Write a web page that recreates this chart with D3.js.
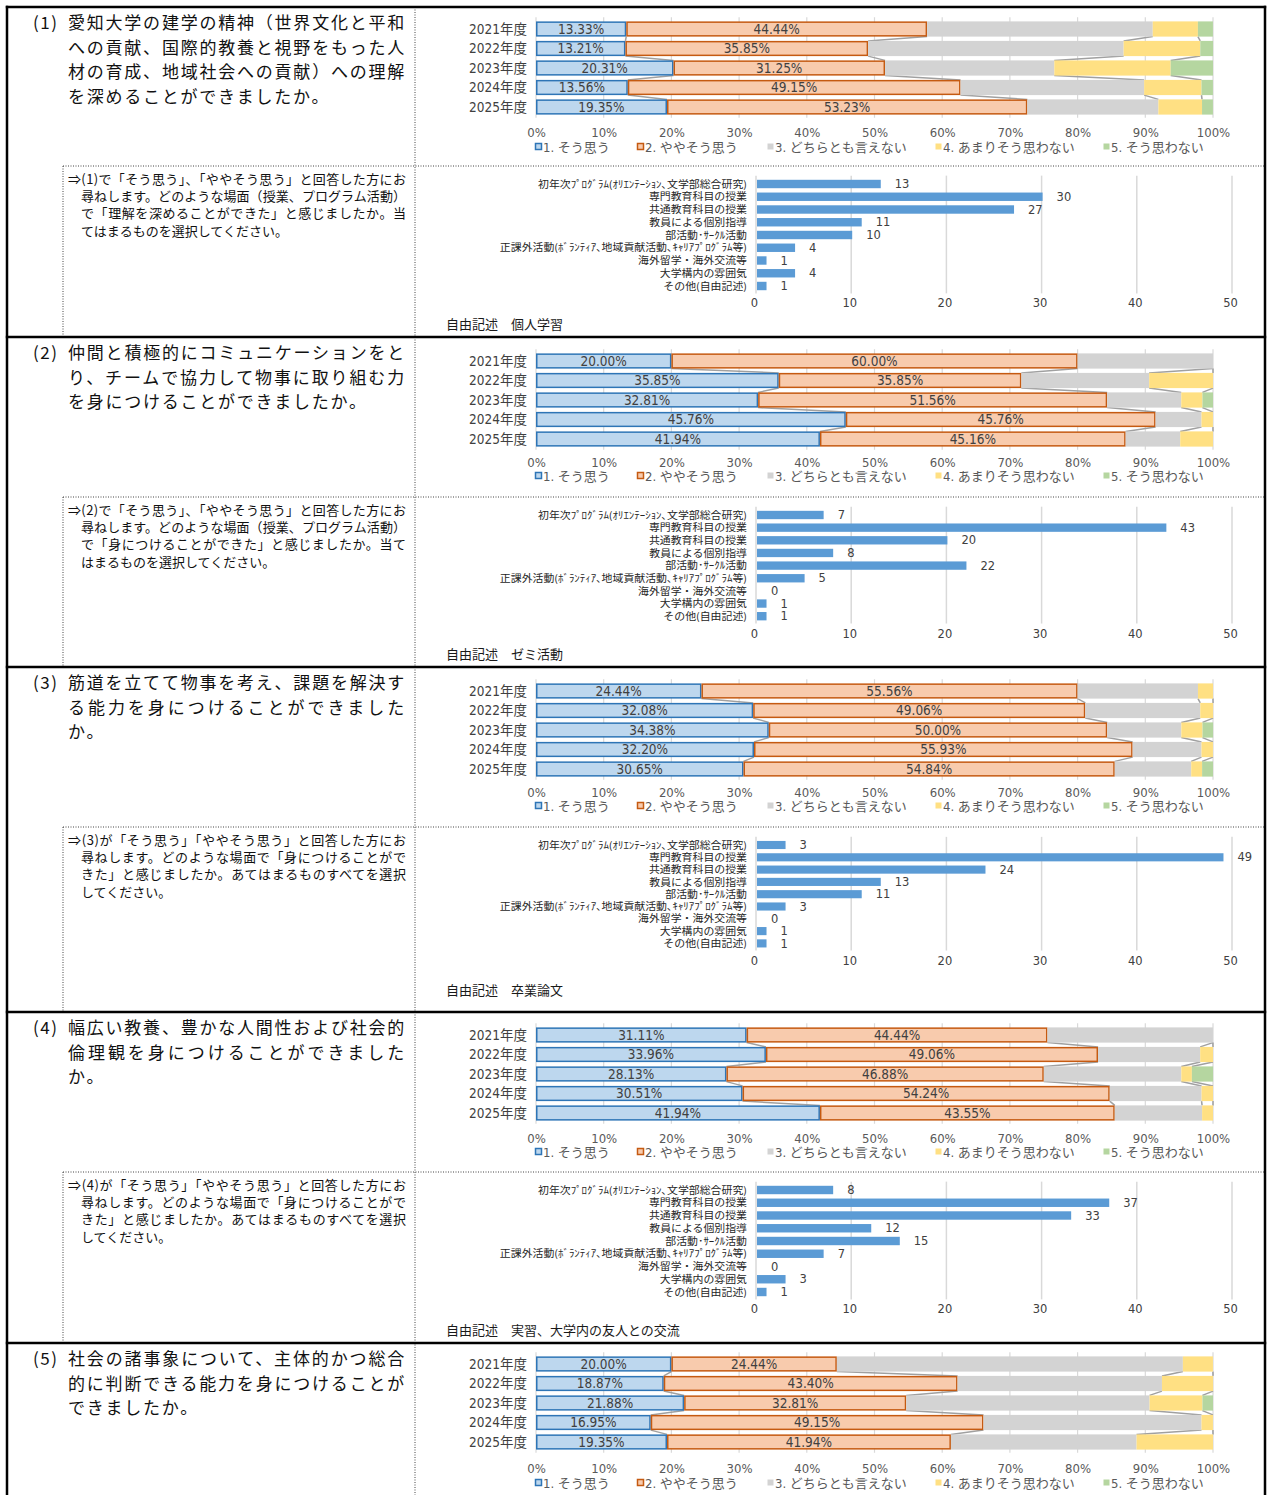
<!DOCTYPE html>
<html>
<head>
<meta charset="utf-8">
<script src="https://cdn.jsdelivr.net/npm/d3@7"></script>
<style>
  body { margin: 0; background: #fff; }
  svg { display: block; }
</style>
</head>
<body>
<svg id="sheet" width="1269" height="1495"></svg>
<script>
// ---- survey data -------------------------------------------------------
const years = ["2021年度", "2022年度", "2023年度", "2024年度", "2025年度"];
const seriesNames = ["1. そう思う", "2. ややそう思う", "3. どちらとも言えない", "4. あまりそう思わない", "5. そう思わない"];
const percentTicks = [0, 10, 20, 30, 40, 50, 60, 70, 80, 90, 100];

// share of answers (%) per year, columns follow seriesNames
const q1Shares = [
  [13.33, 44.44, 33.33, 6.67, 2.22],
  [13.21, 35.85, 37.74, 11.32, 1.89],
  [20.31, 31.25, 25.00, 17.19, 6.25],
  [13.56, 49.15, 27.12, 8.47, 1.69],
  [19.35, 53.23, 19.35, 6.45, 1.61]
];
const q2Shares = [
  [20.00, 60.00, 20.00, 0, 0],
  [35.85, 35.85, 18.87, 9.43, 0],
  [32.81, 51.56, 10.94, 3.13, 1.56],
  [45.76, 45.76, 6.78, 1.69, 0],
  [41.94, 45.16, 8.06, 4.84, 0]
];
const q3Shares = [
  [24.44, 55.56, 17.78, 2.22, 0],
  [32.08, 49.06, 16.98, 1.89, 0],
  [34.38, 50.00, 10.94, 3.13, 1.56],
  [32.20, 55.93, 10.17, 1.69, 0],
  [30.65, 54.84, 11.29, 1.61, 1.61]
];
const q4Shares = [
  [31.11, 44.44, 24.44, 0, 0],
  [33.96, 49.06, 15.09, 1.89, 0],
  [28.13, 46.88, 20.31, 1.56, 3.13],
  [30.51, 54.24, 13.56, 1.69, 0],
  [41.94, 43.55, 12.90, 1.61, 0]
];
const q5Shares = [
  [20.00, 24.44, 51.11, 4.44, 0],
  [18.87, 43.40, 30.19, 7.55, 0],
  [21.88, 32.81, 35.94, 7.81, 1.56],
  [16.95, 49.15, 32.20, 1.69, 0],
  [19.35, 41.94, 27.42, 11.29, 0]
];

// scenes where the ability was gained (number of answers)
const sceneCategories = [
  "初年次ﾌﾟﾛｸﾞﾗﾑ(ｵﾘｴﾝﾃｰｼｮﾝ､文学部総合研究)",
  "専門教育科目の授業",
  "共通教育科目の授業",
  "教員による個別指導",
  "部活動･ｻｰｸﾙ活動",
  "正課外活動(ﾎﾞﾗﾝﾃｨｱ､地域貢献活動､ｷｬﾘｱﾌﾟﾛｸﾞﾗﾑ等)",
  "海外留学・海外交流等",
  "大学構内の雰囲気",
  "その他(自由記述)"
];
const countTicks = [0, 10, 20, 30, 40, 50];
const q1Counts = [13, 30, 27, 11, 10, 4, 1, 4, 1];
const q2Counts = [7, 43, 20, 8, 22, 5, 0, 1, 1];
const q3Counts = [3, 49, 24, 13, 11, 3, 0, 1, 1];
const q4Counts = [8, 37, 33, 12, 15, 7, 0, 3, 1];

const freeTexts = [
  "自由記述　個人学習",
  "自由記述　ゼミ活動",
  "自由記述　卒業論文",
  "自由記述　実習、大学内の友人との交流"
];

const questionNumbers = ["(1)", "(2)", "(3)", "(4)", "(5)"];
const questionLines = [
  ["愛知大学の建学の精神（世界文化と平和", "への貢献、国際的教養と視野をもった人", "材の育成、地域社会への貢献）への理解", "を深めることができましたか。"],
  ["仲間と積極的にコミュニケーションをと", "り、チームで協力して物事に取り組む力", "を身につけることができましたか。"],
  ["筋道を立てて物事を考え、課題を解決す", "る能力を身につけることができました", "か。"],
  ["幅広い教養、豊かな人間性および社会的", "倫理観を身につけることができました", "か。"],
  ["社会の諸事象について、主体的かつ総合", "的に判断できる能力を身につけることが", "できましたか。"]
];
const followUpLines = [
  ["⇒(1)で「そう思う」、「ややそう思う」と回答した方にお", "尋ねします。どのような場面（授業、プログラム活動）", "で「理解を深めることができた」と感じましたか。当", "てはまるものを選択してください。"],
  ["⇒(2)で「そう思う」、「ややそう思う」と回答した方にお", "尋ねします。どのような場面（授業、プログラム活動）", "で「身につけることができた」と感じましたか。当て", "はまるものを選択してください。"],
  ["⇒(3)が「そう思う」「ややそう思う」と回答した方にお", "尋ねします。どのような場面で「身につけることがで", "きた」と感じましたか。あてはまるものすべてを選択", "してください。"],
  ["⇒(4)が「そう思う」「ややそう思う」と回答した方にお", "尋ねします。どのような場面で「身につけることがで", "きた」と感じましたか。あてはまるものすべてを選択", "してください。"]
];

// ---- page geometry -----------------------------------------------------
const sections = [
  { top: 7,    sub: 166,  bottom: 337,  row0: 29,   tick: 132,  legend: 147,  bar0: 184,  barStep: 12.75, barTick: 303,  caption: 324 },
  { top: 337,  sub: 497,  bottom: 667,  row0: 361,  tick: 462,  legend: 476,  bar0: 515,  barStep: 12.65, barTick: 634,  caption: 654 },
  { top: 667,  sub: 827,  bottom: 1012, row0: 691,  tick: 792,  legend: 806,  bar0: 845,  barStep: 12.3,  barTick: 961,  caption: 990 },
  { top: 1012, sub: 1172, bottom: 1343, row0: 1035, tick: 1138, legend: 1152, bar0: 1190, barStep: 12.75, barTick: 1309, caption: 1330 },
  { top: 1343, sub: null, bottom: 1495, row0: 1364, tick: 1468, legend: 1483 }
];

const NARROW = "'Liberation Sans Narrow','DejaVu Sans Condensed','Noto Sans CJK JP',sans-serif";
const JP = "'Noto Sans CJK JP','Noto Sans CJK SC',sans-serif";
const fills = ["#bdd7ee", "#f8cbad", "#d3d3d3", "#ffe083", "#b5d6a0"];
const strokes = ["#2e75b6", "#c55a11", null, null, null];
const legendX = [535, 637, 767, 935, 1103];

const svg = d3.select("#sheet");
svg.append("rect").attr("width", 1269).attr("height", 1495).attr("fill", "#fff");

const xPct = d3.scaleLinear().domain([0, 100]).range([536, 1213]);
const xCnt = d3.scaleLinear().domain([0, 50]).range([756, 1232]);
const stacker = d3.stack().keys(d3.range(5)).value((d, k) => d[k]);

// ---- 100% stacked bars per year ----------------------------------------
function drawStacked(shares, lay) {
  const g = svg.append("g");
  const step = 19.5;
  const y = d3.scaleBand().domain(years)
    .range([lay.row0 - step / 2, lay.row0 - step / 2 + step * years.length])
    .paddingInner(0.22).paddingOuter(0.11);
  const bw = y.bandwidth();
  const layers = stacker(shares);

  g.append("g").selectAll("line").data(percentTicks).join("line")
    .attr("x1", d => xPct(d)).attr("x2", d => xPct(d))
    .attr("y1", y.range()[0] - 2).attr("y2", y.range()[1] + 1)
    .attr("stroke", "#d9d9d9").attr("stroke-width", 1.2);

  // series lines joining the segment ends of neighbouring bars
  const joins = [];
  layers.slice(0, 4).forEach(layer => {
    for (let i = 0; i < years.length - 1; i++) {
      joins.push({ a: layer[i][1], b: layer[i + 1][1], i });
    }
  });
  g.append("g").selectAll("line").data(joins).join("line")
    .attr("x1", d => xPct(d.a)).attr("x2", d => xPct(d.b))
    .attr("y1", d => y(years[d.i]) + bw).attr("y2", d => y(years[d.i + 1]))
    .attr("stroke", "#a0a0a0").attr("stroke-width", 1.5);

  layers.forEach((layer, k) => {
    const inset = strokes[k] ? 0.75 : 0;
    g.append("g").selectAll("rect").data(layer).join("rect")
      .attr("x", d => xPct(d[0]) + inset)
      .attr("y", (d, i) => y(years[i]) + inset)
      .attr("width", d => Math.max(0, xPct(d[1]) - xPct(d[0]) - 2 * inset))
      .attr("height", bw - 2 * inset)
      .attr("fill", fills[k])
      .attr("stroke", strokes[k] || "none")
      .attr("stroke-width", strokes[k] ? 1.5 : 0);
  });

  layers.slice(0, 2).forEach((layer, k) => {
    g.append("g").selectAll("text").data(layer).join("text")
      .attr("x", d => xPct((d[0] + d[1]) / 2))
      .attr("y", (d, i) => y(years[i]) + bw / 2)
      .attr("dy", "0.36em")
      .attr("text-anchor", "middle")
      .attr("font-family", NARROW).attr("font-size", 13.5).attr("fill", "#404040")
      .text(d => shares[layer.indexOf(d)][k].toFixed(2) + "%");
  });

  const yAxis = g.append("g").attr("transform", "translate(527,0)")
    .call(d3.axisLeft(y).tickSize(0).tickPadding(0));
  yAxis.select(".domain").remove();
  yAxis.selectAll("text").attr("font-family", NARROW).attr("font-size", 13.5).attr("fill", "#404040").attr("dy", "0.36em");

  const xAxis = g.append("g").attr("transform", `translate(0,${lay.tick})`)
    .call(d3.axisBottom(xPct).tickValues(percentTicks).tickSize(0).tickFormat(d => d + "%"));
  xAxis.select(".domain").remove();
  xAxis.selectAll("text").attr("y", 0).attr("dy", "0.36em")
    .attr("font-family", NARROW).attr("font-size", 13).attr("fill", "#595959");

  const lg = g.append("g").selectAll("g").data(seriesNames).join("g")
    .attr("transform", (d, k) => `translate(${legendX[k]},${lay.legend})`);
  lg.append("rect").attr("x", 0.5).attr("y", -3.5).attr("width", 6).attr("height", 6)
    .attr("fill", (d, k) => fills[k])
    .attr("stroke", (d, k) => strokes[k] || "none").attr("stroke-width", 1.5);
  lg.append("text").attr("x", 8).attr("dy", "0.36em")
    .attr("font-family", NARROW).attr("font-size", 13).attr("fill", "#595959")
    .text(d => d);
}

// ---- answer counts per scene -------------------------------------------
function drawCounts(counts, lay, caption) {
  const g = svg.append("g");
  const y = d3.scaleBand().domain(sceneCategories)
    .range([lay.bar0 - lay.barStep / 2, lay.bar0 - lay.barStep / 2 + lay.barStep * sceneCategories.length])
    .paddingInner(0.34).paddingOuter(0.17);
  const bw = y.bandwidth();
  const rows = sceneCategories.map((c, i) => ({ c, v: counts[i] }));

  g.append("g").selectAll("line").data(countTicks).join("line")
    .attr("x1", d => xCnt(d)).attr("x2", d => xCnt(d))
    .attr("y1", y.range()[0] - 2).attr("y2", y.range()[1] + 1)
    .attr("stroke", "#d9d9d9").attr("stroke-width", 1.5);

  g.append("g").selectAll("rect").data(rows).join("rect")
    .attr("x", xCnt(0) + 1).attr("y", d => y(d.c))
    .attr("width", d => Math.max(0, xCnt(d.v) - xCnt(0)))
    .attr("height", bw).attr("fill", "#5b9bd5");

  g.append("g").selectAll("text").data(rows).join("text")
    .attr("x", d => xCnt(d.v) + 15).attr("y", d => y(d.c) + bw / 2).attr("dy", "0.36em")
    .attr("font-family", "'DejaVu Sans',sans-serif").attr("font-size", 11.5).attr("fill", "#404040")
    .text(d => d.v);

  // category names: small glyphs, stretched a little sideways
  const yAxis = g.append("g").attr("transform", "translate(747,0)")
    .call(d3.axisLeft(y).tickSize(0).tickPadding(0));
  yAxis.select(".domain").remove();
  yAxis.selectAll("text").attr("font-family", JP).attr("font-size", 10).attr("fill", "#262626").attr("dy", "0.36em")
    .each(function () {
      const w = this.getComputedTextLength();
      d3.select(this).attr("textLength", w * 1.09).attr("lengthAdjust", "spacingAndGlyphs");
    });

  const xAxis = g.append("g").attr("transform", `translate(-2,${lay.barTick})`)
    .call(d3.axisBottom(xCnt).tickValues(countTicks).tickSize(0));
  xAxis.select(".domain").remove();
  xAxis.selectAll("text").attr("y", 0).attr("dy", "0.36em")
    .attr("font-family", "'DejaVu Sans',sans-serif").attr("font-size", 11.5).attr("fill", "#404040");

  g.append("text").attr("x", 446).attr("y", lay.caption).attr("dy", "0.36em")
    .attr("font-family", JP).attr("font-size", 13).attr("fill", "#1a1a1a")
    .text(caption);
}

// ---- question texts ----------------------------------------------------
function drawQuestion(k, lay) {
  const g = svg.append("g").attr("font-family", JP).attr("fill", "#111");
  g.append("text").attr("x", 33).attr("y", lay.top + 16).attr("dy", "0.36em")
    .attr("font-size", 17).attr("letter-spacing", 1.5).text(questionNumbers[k]);
  const lines = questionLines[k];
  g.selectAll("text.q").data(lines).join("text").attr("class", "q")
    .attr("x", 68).attr("y", (d, i) => lay.top + 16 + i * 24.5).attr("dy", "0.36em")
    .attr("font-size", 17).attr("letter-spacing", 1.75)
    .each(function (d, i) {
      if (i < lines.length - 1) d3.select(this).attr("textLength", 338).attr("lengthAdjust", "spacing");
    })
    .text(d => d);

  if (lay.sub != null) {
    const sub = followUpLines[k];
    g.selectAll("text.s").data(sub).join("text").attr("class", "s")
      .attr("x", (d, i) => i === 0 ? 68 : 81)
      .attr("y", (d, i) => lay.sub + 13 + i * 17.3).attr("dy", "0.36em")
      .attr("font-size", 13)
      .each(function (d, i) {
        if (i < sub.length - 1) d3.select(this).attr("textLength", i === 0 ? 338 : 325).attr("lengthAdjust", "spacing");
      })
      .text(d => d);
  }
}

// ---- table rules -------------------------------------------------------
function drawFrame() {
  const g = svg.append("g");
  const solid = (x1, y1, x2, y2) => g.append("line")
    .attr("x1", x1).attr("y1", y1).attr("x2", x2).attr("y2", y2)
    .attr("stroke", "#000").attr("stroke-width", 2.5);
  const dotted = (x1, y1, x2, y2) => g.append("line")
    .attr("x1", x1).attr("y1", y1).attr("x2", x2).attr("y2", y2)
    .attr("stroke", "#444").attr("stroke-width", 1).attr("stroke-dasharray", "1,1.5");

  dotted(415, 7, 415, 1495);
  sections.forEach(s => {
    if (s.sub != null) {
      dotted(63, s.sub, 1265, s.sub);
      dotted(63, s.sub, 63, s.bottom);
    }
  });
  solid(7, 5.8, 7, 1495);
  solid(1265, 5.8, 1265, 1495);
  solid(5.8, 7, 1266.2, 7);
  sections.slice(1).forEach(s => solid(5.8, s.top, 1266.2, s.top));
}

const shareSets = [q1Shares, q2Shares, q3Shares, q4Shares, q5Shares];
const countSets = [q1Counts, q2Counts, q3Counts, q4Counts];

sections.forEach((lay, k) => {
  drawQuestion(k, lay);
  drawStacked(shareSets[k], lay);
  if (countSets[k]) drawCounts(countSets[k], lay, freeTexts[k]);
});
drawFrame();
</script>
</body>
</html>
